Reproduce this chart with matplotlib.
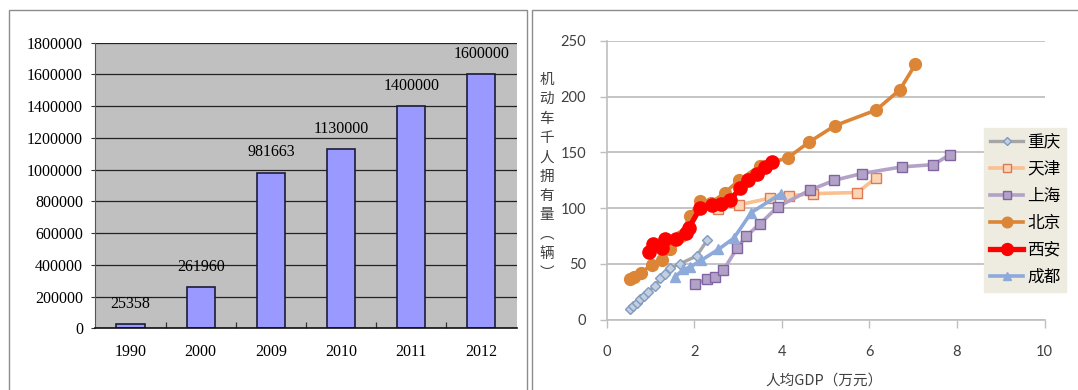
import matplotlib
matplotlib.use("Agg")
import matplotlib.pyplot as plt
from matplotlib.patches import Rectangle
from matplotlib.ticker import FixedLocator

plt.rcParams['font.family'] = ['Noto Sans CJK SC', 'DejaVu Sans']

# ---- left panel: vehicle totals by year ----
years = ['1990', '2000', '2009', '2010', '2011', '2012']
vehicles = [25358, 261960, 981663, 1130000, 1400000, 1600000]

# ---- right panel: vehicles per 1000 people vs GDP per capita (10k yuan) ----
cq_x = [0.53, 0.60, 0.68, 0.76, 0.84, 0.95, 1.10, 1.22, 1.33, 1.44, 1.67, 2.05, 2.29]
cq_y = [9, 12, 15, 18, 21, 25, 30, 37, 41, 46, 50, 57, 71]

tj_x = [2.55, 3.03, 3.73, 4.15, 4.72, 5.72, 6.15]
tj_y = [99, 103, 109, 111, 113, 114, 127]

sh_x = [2.02, 2.28, 2.48, 2.66, 2.97, 3.19, 3.50, 3.90, 4.63, 5.20, 5.82, 6.74, 7.46, 7.84]
sh_y = [32, 36, 38, 44, 64, 75, 86, 101, 116, 125, 131, 137, 139, 148]

bj_x = [0.52, 0.62, 0.78, 1.02, 1.27, 1.44, 1.70, 1.89, 2.13, 2.39, 2.70, 3.02, 3.49,
        4.13, 4.61, 5.21, 6.15, 6.69, 7.05]
bj_y = [36, 38, 42, 49, 53, 63, 75, 93, 106, 105, 114, 125, 138, 145, 159, 174, 188, 206, 229]

xa_x = [0.97, 1.05, 1.25, 1.32, 1.57, 1.80, 1.87, 2.13, 2.40, 2.60, 2.81, 3.05, 3.23,
        3.42, 3.62, 3.77]
xa_y = [61, 68, 64, 72, 72, 78, 82, 100, 103, 104, 107, 118, 125, 131, 137, 141]

cd_x = [1.55, 1.75, 1.90, 2.15, 2.55, 2.90, 3.30, 3.98]
cd_y = [38, 45, 47, 53, 63, 73, 96, 113]

W, H = 1078, 390
fig = plt.figure(figsize=(W / 100, H / 100), dpi=100)


def fx(px):
    return px / W


def fy(py):
    return 1 - py / H


# panel frames
fig.add_artist(Rectangle((fx(9), -0.1), fx(526.5 - 9), fy(10) + 0.1, transform=fig.transFigure,
                         fill=False, edgecolor='#8c8c8c', lw=1.0))
fig.add_artist(Rectangle((fx(532), -0.1), fx(600), fy(10) + 0.1, transform=fig.transFigure,
                         fill=False, edgecolor='#8c8c8c', lw=1.0))

# ================= left: bar chart =================
serif = 'Liberation Serif'
ax1 = fig.add_axes([fx(95.4), fy(328.3), fx(516.5 - 95.4), (328.3 - 42.7) / H])
ax1.set_facecolor('#C0C0C0')
pos = list(range(len(years)))
ax1.bar(pos, vehicles, width=0.4, color='#9999FF', edgecolor='#1c1c3a', linewidth=1.2, zorder=3)
ax1.set_xlim(-0.5, len(years) - 0.5)
ax1.set_ylim(0, 1800000)
ax1.set_yticks(range(0, 1800001, 200000))
ax1.set_yticklabels([str(v) for v in range(0, 1800001, 200000)], fontfamily=serif, fontsize=11.5)
ax1.set_xticks(pos)
ax1.set_xticklabels(years, fontfamily=serif, fontsize=11.5)
ax1.xaxis.set_minor_locator(FixedLocator([p + 0.5 for p in pos[:-1]]))
ax1.tick_params(axis='x', which='major', length=0, pad=11)
ax1.tick_params(axis='x', which='minor', direction='in', length=4, width=0.9, color='#333333')
ax1.tick_params(axis='y', length=3, width=0.8, direction='out', pad=6, color='#333333')
ax1.yaxis.grid(True, color='#222222', lw=0.9)
ax1.set_axisbelow(True)
for s in ('top', 'right'):
    ax1.spines[s].set_visible(False)
ax1.spines['left'].set_color('#555555')
ax1.spines['left'].set_linewidth(0.8)
ax1.spines['bottom'].set_color('#111111')
ax1.spines['bottom'].set_linewidth(1.2)
ax1.spines['bottom'].set_zorder(4)
for p, v in zip(pos, vehicles):
    ax1.annotate(str(v), (p, v), xytext=(0, 14.5), textcoords='offset points',
                 ha='center', va='center', fontfamily=serif, fontsize=11.5, zorder=5)

# ================= right: line chart =================
ax2 = fig.add_axes([fx(606.9), fy(319.5), fx(1044.5 - 606.9), (319.5 - 41) / H])
ax2.set_xlim(0, 10)
ax2.set_ylim(0, 250)
ax2.set_xticks(range(0, 11, 2))
ax2.set_yticks(range(0, 251, 50))
for lab in ax2.get_xticklabels() + ax2.get_yticklabels():
    lab.set_fontfamily('Lato')
    lab.set_fontsize(10.5)
    lab.set_color('#404040')
ax2.tick_params(axis='x', length=6, width=1, color='#BFBFBF', pad=12)
ax2.tick_params(axis='y', length=5, width=1, color='#BFBFBF', pad=10)
ax2.yaxis.grid(True, color='#BFBFBF', lw=1.3)
ax2.set_axisbelow(True)
for s in ('top', 'right'):
    ax2.spines[s].set_visible(False)
for s in ('left', 'bottom'):
    ax2.spines[s].set_color('#BFBFBF')
    ax2.spines[s].set_linewidth(1.2)

series = [
    ('重庆', cq_x, cq_y, dict(color='#A6A6A6', lw=2.4, marker='D', ms=5,
                              mfc='#C3CFE0', mec='#7F9CC0', mew=1.0)),
    ('天津', tj_x, tj_y, dict(color='#FAC08F', lw=2.6, marker='s', ms=7,
                              mfc='#FCD5B4', mec='#DD7A55', mew=1.0)),
    ('上海', sh_x, sh_y, dict(color='#B3A2C7', lw=2.6, marker='s', ms=7,
                              mfc='#B3A2C7', mec='#8064A2', mew=1.0)),
    ('北京', bj_x, bj_y, dict(color='#DC8536', lw=2.6, marker='o', ms=8.5,
                              mfc='#DC8536', mec='#DC8536')),
    ('西安', xa_x, xa_y, dict(color='#FF0000', lw=3.8, marker='o', ms=9.5,
                              mfc='#FF0000', mec='#FF0000')),
    ('成都', cd_x, cd_y, dict(color='#8DAADB', lw=2.6, marker='^', ms=6.5,
                              mfc='#8DAADB', mec='#8DAADB')),
]
handles = []
for name, xs, ys, kw in series:
    ln, = ax2.plot(xs, ys, label=name, **kw)
    handles.append(ln)

leg = fig.legend(handles=handles, loc='upper left', bbox_to_anchor=(fx(984), fy(128)),
                 bbox_transform=fig.transFigure, frameon=True, fancybox=False,
                 facecolor='#EEECE1', edgecolor='#EEECE1', framealpha=1,
                 prop={'family': ['Noto Sans CJK SC', 'DejaVu Sans'], 'size': 12},
                 handlelength=2.0, handletextpad=0.25, labelspacing=0.6,
                 borderpad=0.35, borderaxespad=0, markerscale=0.9)

# vertical y-axis title, one character per line
ylab_chars = list('机动车千人拥有量︵辆︶')
for i, ch in enumerate(ylab_chars):
    fig.text(fx(546.5), fy(80 + i * 19.3), ch, ha='center', va='center',
             fontsize=10.5, color='#404040')

fig.text(fx(824.5), fy(381), '人均GDP（万元）', ha='center', va='center',
         fontsize=10.5, color='#404040')

fig.savefig('out.png', dpi=100)
